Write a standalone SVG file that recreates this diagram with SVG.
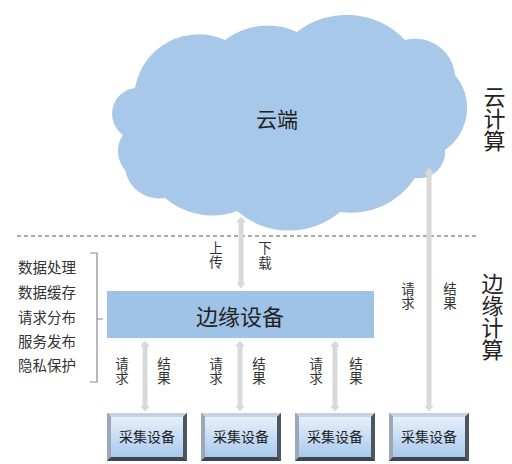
<svg xmlns="http://www.w3.org/2000/svg" width="512" height="464" viewBox="0 0 512 464">
<defs>
<style>
text{font-family:"Liberation Sans","Noto Sans CJK SC",sans-serif;fill:#222}
.lst{font-size:14.5px;fill:#333}
.v{font-size:13.5px;text-anchor:middle;fill:#333}
.big{font-size:22px;text-anchor:middle;fill:#222;writing-mode:vertical-rl}
.dev{font-size:14px;text-anchor:middle;fill:#222}
.arr{stroke:#d9d9d9;stroke-width:5;fill:none;marker-start:url(#ah);marker-end:url(#ah)}
</style>
<marker id="ah" viewBox="0 0 6 10" markerUnits="userSpaceOnUse" markerWidth="6" markerHeight="10" refX="0.5" refY="5" orient="auto-start-reverse">
<path d="M0,0 L6,5 L0,10 z" fill="#d9d9d9"/>
</marker>
<linearGradient id="dg" x1="0" y1="0" x2="0" y2="1">
<stop offset="0" stop-color="#e6f0fb"/>
<stop offset="1" stop-color="#a9c9ee"/>
</linearGradient>
<g id="devshape">
<rect x="0" y="0" width="80" height="48" fill="#7b8794"/>
<polygon points="0,0 80,0 76,4 4,4" fill="#c5d2e0"/>
<polygon points="0,0 4,4 4,44 0,48" fill="#9aa8b7"/>
<polygon points="80,0 80,48 76,44 76,4" fill="#4d565f"/>
<polygon points="0,48 80,48 76,44 4,44" fill="#3f464d"/>
<rect x="4" y="4" width="72" height="40" fill="url(#dg)"/>
</g>
</defs>
<rect width="512" height="464" fill="#fff"/>

<g id="cloud">
<path d="M135,88 A64.5,64.5 0 0 1 225,40 A70,70 0 0 1 297,32 A80,80 0 0 1 405,40 A40,40 0 0 1 455,75 A51,51 0 0 1 445,150 A26,26 0 0 1 415,178 A76,76 0 0 1 340,212 A79,79 0 0 1 237,211 A72,72 0 0 1 165,198 A35,35 0 0 1 125,170 A28.5,28.5 0 0 1 123,135 A26,26 0 0 1 135,88 Z" fill="#a8c8ea"/>
<text x="277" y="127" style="font-size:21px;text-anchor:middle">云端</text>
</g>

<line x1="17" y1="236" x2="478" y2="236" stroke="#555" stroke-width="1" stroke-dasharray="4 3"/>

<g id="connectors">
<line class="arr" x1="241" y1="222" x2="241" y2="283"/>
<line class="arr" x1="429" y1="173" x2="429" y2="406"/>
<line class="arr" x1="145" y1="346" x2="145" y2="406"/>
<line class="arr" x1="240" y1="346" x2="240" y2="406"/>
<line class="arr" x1="335" y1="346" x2="335" y2="406"/>
<text class="v" x="216" y="253">上</text><text class="v" x="216" y="267">传</text>
<text class="v" x="265" y="253">下</text><text class="v" x="265" y="268">载</text>
<text class="v" x="408" y="294">请</text><text class="v" x="408" y="308">求</text>
<text class="v" x="450" y="294">结</text><text class="v" x="450" y="308">果</text>
<text class="v" x="122" y="369">请</text><text class="v" x="122" y="383">求</text>
<text class="v" x="164" y="369">结</text><text class="v" x="164" y="383">果</text>
<text class="v" x="216" y="369">请</text><text class="v" x="216" y="383">求</text>
<text class="v" x="259" y="369">结</text><text class="v" x="259" y="383">果</text>
<text class="v" x="316" y="369">请</text><text class="v" x="316" y="383">求</text>
<text class="v" x="356" y="369">结</text><text class="v" x="356" y="383">果</text>
</g>

<g id="edge">
<rect x="107" y="291" width="267" height="47" fill="#9fc3e7"/>
<text x="240" y="325" style="font-size:22px;text-anchor:middle">边缘设备</text>
</g>

<g id="functions">
<text class="lst" x="18" y="273">数据处理</text>
<text class="lst" x="18" y="298">数据缓存</text>
<text class="lst" x="18" y="323">请求分布</text>
<text class="lst" x="18" y="347">服务发布</text>
<text class="lst" x="18" y="371">隐私保护</text>
<path d="M90,253 H97 V382 H90 M97,319 H103" fill="none" stroke="#8a8a8a" stroke-width="1.2"/>
</g>

<g id="dev1"><use href="#devshape" x="107" y="413"/><text class="dev" x="147" y="442">采集设备</text></g>
<g id="dev2"><use href="#devshape" x="201" y="413"/><text class="dev" x="241" y="442">采集设备</text></g>
<g id="dev3"><use href="#devshape" x="295" y="413"/><text class="dev" x="335" y="442">采集设备</text></g>
<g id="dev4"><use href="#devshape" x="389" y="413"/><text class="dev" x="429" y="442">采集设备</text></g>

<g id="labels">
<text class="big" x="492" y="119">云计算</text>
<text class="big" x="490" y="317">边缘计算</text>
</g>
</svg>
